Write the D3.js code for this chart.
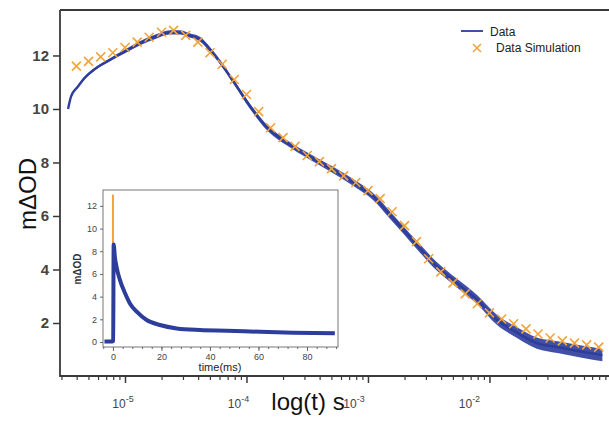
<!DOCTYPE html>
<html>
<head>
<meta charset="utf-8">
<script src="https://cdn.jsdelivr.net/npm/d3@7/dist/d3.min.js"></script>
<style>
    body { margin: 0; background: #fff; }
    svg { display: block; }
    text { font-family: "Liberation Sans", Arial, sans-serif; }
</style>
</head>
<body>
<svg id="chart" width="609" height="424"></svg>
<script>
    // main plot: data (time in s, mOD) with noise band width
    var dataTime = [3.4e-6, 3.6e-6, 4.1e-6, 4.7e-6, 5.6e-6, 7.6e-6, 1.0e-5, 1.32e-5, 1.78e-5, 2.34e-5,
        2.82e-5, 3.39e-5, 4.17e-5, 5.0e-5, 6.0e-5, 7.8e-5, 1.07e-4, 1.48e-4, 2.14e-4, 3.31e-4,
        5.13e-4, 8.5e-4, 1.1e-3, 1.51e-3, 1.95e-3, 2.51e-3, 3.72e-3, 5.37e-3, 7.94e-3, 1.15e-2,
        1.7e-2, 2.45e-2, 3.63e-2, 5.89e-2, 8.5e-2];
    var dataValue = [10.0, 10.47, 10.84, 11.18, 11.48, 11.85, 12.15, 12.45, 12.7, 12.86,
        12.86, 12.75, 12.6, 12.23, 11.78, 11.03, 10.1, 9.3, 8.74, 8.22,
        7.73, 7.1, 6.73, 6.05, 5.49, 4.93, 4.1, 3.5, 2.87, 2.12,
        1.63, 1.25, 1.1, 0.92, 0.8];
    var dataNoise = [0.02, 0.02, 0.03, 0.04, 0.05, 0.06, 0.07, 0.08, 0.08, 0.08,
        0.08, 0.08, 0.09, 0.09, 0.09, 0.09, 0.1, 0.1, 0.1, 0.11,
        0.12, 0.13, 0.13, 0.14, 0.14, 0.15, 0.16, 0.16, 0.17, 0.19,
        0.2, 0.21, 0.22, 0.23, 0.23];

    // simulation crosses, one every 0.1 decade from 10^-5.4 s
    var simTime = [3.98e-6, 5.01e-6, 6.31e-6, 7.94e-6, 1.0e-5, 1.26e-5, 1.58e-5, 2.0e-5, 2.51e-5, 3.16e-5,
        3.98e-5, 5.01e-5, 6.31e-5, 7.94e-5, 1.0e-4, 1.26e-4, 1.58e-4, 2.0e-4, 2.51e-4, 3.16e-4,
        3.98e-4, 5.01e-4, 6.31e-4, 7.94e-4, 1.0e-3, 1.26e-3, 1.58e-3, 2.0e-3, 2.51e-3, 3.16e-3,
        3.98e-3, 5.01e-3, 6.31e-3, 7.94e-3, 1.0e-2, 1.26e-2, 1.58e-2, 2.0e-2, 2.51e-2, 3.16e-2,
        3.98e-2, 5.01e-2, 6.31e-2, 7.94e-2];
    var simValue = [11.6, 11.78, 11.95, 12.1, 12.3, 12.5, 12.68, 12.87, 12.94, 12.75,
        12.5, 12.1, 11.67, 11.1, 10.54, 9.9, 9.3, 8.93, 8.6, 8.26,
        8.03, 7.77, 7.5, 7.25, 6.95, 6.65, 6.16, 5.64, 5.04, 4.4,
        3.91, 3.5, 3.09, 2.72, 2.38, 2.15, 1.97, 1.78, 1.59, 1.44,
        1.33, 1.25, 1.18, 1.1];

    var yTicks = [2, 4, 6, 8, 10, 12];
    var xDecades = [1e-5, 1e-4, 1e-3, 1e-2];
    var xDecadeLabels = ["-5", "-4", "-3", "-2"];

    // inset: time in ms
    var insetTime = [-3.5, -0.2, 0.1, 0.3, 0.8, 1.5, 2.9, 5, 7, 9.8, 13.9, 19.4, 26.3, 35.9, 46.9, 60.6, 74.4, 91.5];
    var insetValue = [0.05, 0.05, 0.1, 8.6, 7.5, 6.6, 5.46, 4.3, 3.4, 2.67, 1.94, 1.5, 1.2, 1.06, 1.0, 0.9, 0.82, 0.77];
    var insetSimTime = [0, 0];
    var insetSimValue = [0, 13];
    var insetYTicks = [0, 2, 4, 6, 8, 10, 12];
    var insetXTicks = [0, 20, 40, 60, 80];

    var blue = "#2c3d9c";
    var orange = "#f2a33a";
    var axisColor = "#3a3a3a";

    var svg = d3.select("#chart");

    var x = d3.scaleLog().domain([Math.pow(10, -5.535), Math.pow(10, -1.016)]).range([60, 609]);
    var y = d3.scaleLinear().domain([0, 13.7]).range([376.5, 10]);

    // noisy data band
    var pts = dataTime.map(function (t, i) {
        return {t: t, v: dataValue[i], n: dataNoise[i]};
    });
    var band = d3.area()
        .x(function (d) { return x(d.t); })
        .y0(function (d) { return y(d.v - d.n); })
        .y1(function (d) { return y(d.v + d.n); })
        .curve(d3.curveMonotoneX);
    svg.append("path").datum(pts).attr("d", band).attr("fill", blue).attr("opacity", 0.9);
    var line = d3.line()
        .x(function (d) { return x(d.t); })
        .y(function (d) { return y(d.v); })
        .curve(d3.curveMonotoneX);
    svg.append("path").datum(pts).attr("d", line)
        .attr("fill", "none").attr("stroke", blue).attr("stroke-width", 2.4);

    // simulation crosses
    var s = 4.5;
    var crosses = svg.append("g").attr("stroke", orange).attr("stroke-width", 1.6).attr("fill", "none");
    simTime.forEach(function (t, i) {
        var cx = x(t), cy = y(simValue[i]);
        crosses.append("path")
            .attr("d", "M" + (cx - s) + "," + (cy - s) + "L" + (cx + s) + "," + (cy + s) +
                "M" + (cx - s) + "," + (cy + s) + "L" + (cx + s) + "," + (cy - s));
    });

    // frame + axes
    svg.append("line").attr("x1", 60).attr("x2", 609).attr("y1", 10).attr("y2", 10)
        .attr("stroke", axisColor).attr("stroke-width", 1.8);

    var yAxis = svg.append("g").attr("transform", "translate(60,0)")
        .call(d3.axisLeft(y).tickValues(yTicks).tickSize(7).tickSizeOuter(0).tickFormat(d3.format("d")));
    yAxis.select(".domain").attr("d", "M0,10V377").attr("stroke", axisColor).attr("stroke-width", 1.8);
    yAxis.selectAll(".tick line").attr("stroke", axisColor).attr("stroke-width", 1.5);
    yAxis.selectAll(".tick text").attr("font-size", "15px").attr("font-weight", "bold").attr("fill", "#444")
        .attr("font-family", "Liberation Sans, Arial, sans-serif").attr("dx", "-1");

    var minor = [];
    [-6, -5, -4, -3, -2].forEach(function (e) {
        for (var k = 2; k <= 9; k++) {
            var v = k * Math.pow(10, e);
            if (v > x.domain()[0] && v < x.domain()[1]) minor.push(v);
        }
    });

    var xAxis = svg.append("g").attr("transform", "translate(0,376)")
        .call(d3.axisBottom(x).tickValues(xDecades).tickSize(7).tickSizeOuter(0).tickFormat(""));
    xAxis.select(".domain").attr("d", "M60,0H609").attr("stroke", axisColor).attr("stroke-width", 1.8);
    xAxis.selectAll(".tick line").attr("stroke", axisColor).attr("stroke-width", 1.5);

    var xMinor = svg.append("g").attr("transform", "translate(0,376)")
        .call(d3.axisBottom(x).tickValues(minor).tickSize(4).tickSizeOuter(0).tickFormat(""));
    xMinor.select(".domain").remove();
    xMinor.selectAll(".tick line").attr("stroke", axisColor).attr("stroke-width", 1.2);

    // decade labels sit slightly left of their ticks in the original
    xDecades.forEach(function (d, i) {
        var t = svg.append("text")
            .attr("x", x(d) - 2 - i * 6)
            .attr("y", 408)
            .attr("text-anchor", "middle")
            .attr("font-size", "12px")
            .attr("fill", "#444")
            .text("10");
        t.append("tspan").attr("dy", -6).attr("font-size", "9px").text(xDecadeLabels[i]);
    });

    svg.append("text")
        .attr("x", 308).attr("y", 410)
        .attr("text-anchor", "middle")
        .attr("font-size", "24px")
        .attr("fill", "#111")
        .text("log(t) s");

    svg.append("text")
        .attr("transform", "translate(36,194) rotate(-90)")
        .attr("text-anchor", "middle")
        .attr("font-size", "24px")
        .attr("fill", "#111")
        .text("mΔOD");

    // legend
    svg.append("line").attr("x1", 461).attr("x2", 483).attr("y1", 31).attr("y2", 31)
        .attr("stroke", blue).attr("stroke-width", 1.8);
    svg.append("text").attr("x", 490).attr("y", 36).attr("font-size", "12px").attr("fill", "#222").text("Data");
    var lx = 477, ly = 48, ls = 4;
    svg.append("path")
        .attr("d", "M" + (lx - ls) + "," + (ly - ls) + "L" + (lx + ls) + "," + (ly + ls) +
            "M" + (lx - ls) + "," + (ly + ls) + "L" + (lx + ls) + "," + (ly - ls))
        .attr("stroke", orange).attr("stroke-width", 1.6);
    svg.append("text").attr("x", 496).attr("y", 52).attr("font-size", "12px").attr("fill", "#222").text("Data Simulation");

    // inset
    var ix = d3.scaleLinear().domain([-4.1, 92.8]).range([103, 338]);
    var iy = d3.scaleLinear().domain([-0.44, 13.4]).range([347, 190]);

    svg.append("rect").attr("x", 62).attr("y", 184).attr("width", 284).attr("height", 190).attr("fill", "#fff");

    var ins = svg.append("g");
    var iline = d3.line()
        .x(function (d) { return ix(d[0]); })
        .y(function (d) { return iy(d[1]); });
    ins.append("path").datum(insetSimTime.map(function (t, i) { return [t, insetSimValue[i]]; }))
        .attr("d", iline).attr("fill", "none").attr("stroke", orange).attr("stroke-width", 2);
    ins.append("path").datum(insetTime.map(function (t, i) { return [t, insetValue[i]]; }))
        .attr("d", iline.curve(d3.curveMonotoneX)).attr("fill", "none").attr("stroke", blue).attr("stroke-width", 4);

    ins.append("rect").attr("x", 103).attr("y", 190).attr("width", 235).attr("height", 157)
        .attr("fill", "none").attr("stroke", "#777").attr("stroke-width", 1);

    var iyAxis = ins.append("g").attr("transform", "translate(103,0)")
        .call(d3.axisLeft(iy).tickValues(insetYTicks).tickSize(3).tickSizeOuter(0));
    iyAxis.select(".domain").remove();
    iyAxis.selectAll(".tick line").attr("stroke", "#666");
    iyAxis.selectAll(".tick text").attr("font-size", "9px").attr("fill", "#444");

    var ixMinor = d3.range(-4, 93, 4);
    var ixAxis2 = ins.append("g").attr("transform", "translate(0,347)")
        .call(d3.axisBottom(ix).tickValues(ixMinor).tickSize(2).tickSizeOuter(0).tickFormat(""));
    ixAxis2.select(".domain").remove();
    ixAxis2.selectAll(".tick line").attr("stroke", "#666");
    var ixAxis = ins.append("g").attr("transform", "translate(0,347)")
        .call(d3.axisBottom(ix).tickValues(insetXTicks).tickSize(4).tickSizeOuter(0));
    ixAxis.select(".domain").remove();
    ixAxis.selectAll(".tick line").attr("stroke", "#666");
    ixAxis.selectAll(".tick text").attr("font-size", "9px").attr("fill", "#444");

    ins.append("text").attr("x", 220).attr("y", 371).attr("text-anchor", "middle")
        .attr("font-size", "11px").attr("fill", "#222").text("time(ms)");
    ins.append("text").attr("transform", "translate(81,269) rotate(-90)").attr("text-anchor", "middle")
        .attr("font-size", "10px").attr("font-weight", "bold").attr("fill", "#333").text("mΔOD");
</script>
</body>
</html>
